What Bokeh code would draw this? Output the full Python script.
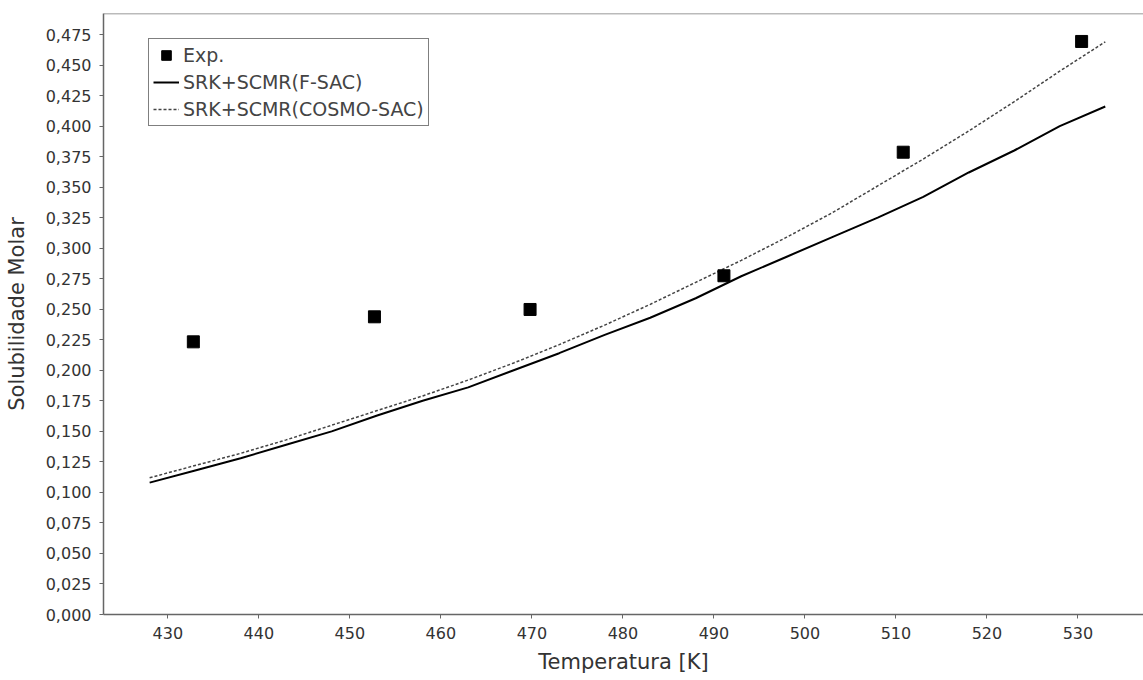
from bokeh.plotting import figure
from bokeh.models import FixedTicker, Span, Legend, LegendItem, Range1d
from bokeh.embed import file_html
from bokeh.resources import INLINE

# Experimental data
exp_T = [432.8, 452.7, 469.8, 491.1, 510.8, 530.4]
exp_x = [0.2233, 0.2438, 0.2498, 0.2774, 0.3786, 0.4693]

# Model curves
model_T = [428, 433, 438, 443, 448, 453, 458, 463, 468, 473, 478, 483,
           488, 493, 498, 503, 508, 513, 518, 523, 528, 533]
fsac_x = [0.108, 0.118, 0.128, 0.139, 0.150, 0.163, 0.175, 0.186, 0.200, 0.214, 0.229, 0.243,
          0.259, 0.277, 0.293, 0.309, 0.325, 0.342, 0.362, 0.380, 0.400, 0.416]
cosmo_x = [0.112, 0.122, 0.132, 0.143, 0.155, 0.167, 0.179, 0.192, 0.206, 0.221, 0.237, 0.254,
           0.272, 0.290, 0.309, 0.329, 0.351, 0.373, 0.396, 0.420, 0.445, 0.469]

y_ticks = [round(i * 0.025, 3) for i in range(20)]
x_ticks = [430, 440, 450, 460, 470, 480, 490, 500, 510, 520, 530]

FONT = "DejaVu Sans"

p = figure(width=1143, height=680, output_backend="svg", toolbar_location=None,
           x_range=Range1d(422.93, 537.2), y_range=Range1d(0, 0.4922),
           min_border_left=103, min_border_right=0, min_border_top=13, min_border_bottom=66)
p.background_fill_color = "white"
p.border_fill_color = "white"
p.outline_line_color = None
p.xgrid.grid_line_color = None
p.ygrid.grid_line_color = None

for ax in (p.xaxis[0], p.yaxis[0]):
    ax.axis_line_color = "#666666"
    ax.axis_line_width = 1.5
    ax.major_tick_line_color = "#666666"
    ax.major_tick_out = 4
    ax.major_tick_in = 0
    ax.minor_tick_line_color = None
    ax.major_label_text_font = FONT
    ax.major_label_text_font_size = "16px"
    ax.major_label_text_color = "#333333"
    ax.axis_label_text_font = FONT
    ax.axis_label_text_font_size = "21px"
    ax.axis_label_text_font_style = "normal"
    ax.axis_label_text_color = "#333333"

p.xaxis.ticker = FixedTicker(ticks=x_ticks)
p.yaxis.ticker = FixedTicker(ticks=y_ticks)
p.yaxis.major_label_overrides = {t: f"{t:.3f}".replace(".", ",") for t in y_ticks}
p.xaxis.axis_label = "Temperatura [K]"
p.yaxis.axis_label = "Solubilidade Molar"
p.xaxis.major_label_standoff = 8
p.yaxis.major_label_standoff = 8
p.xaxis.axis_label_standoff = 8
p.yaxis.axis_label_standoff = 14

p.add_layout(Span(location=0.4922, dimension="width", line_color="#777777", line_width=1.5))

r_fsac = p.line(model_T, fsac_x, line_color="black", line_width=2)
r_cosmo = p.line(model_T, cosmo_x, line_color="#444444", line_width=1.5, line_dash="3 2")
r_exp = p.scatter(exp_T, exp_x, marker="square", size=12, fill_color="black", line_color="black")

legend = Legend(items=[
    LegendItem(label="Exp.", renderers=[r_exp]),
    LegendItem(label="SRK+SCMR(F-SAC)", renderers=[r_fsac]),
    LegendItem(label="SRK+SCMR(COSMO-SAC)", renderers=[r_cosmo]),
], location=(45, 488))
legend.border_line_color = "black"
legend.border_line_width = 1
legend.background_fill_alpha = 1
legend.label_text_font = FONT
legend.label_text_font_size = "19px"
legend.label_text_color = "#444444"
legend.glyph_width = 26
legend.glyph_height = 24
legend.label_height = 24
legend.label_standoff = 4
legend.padding = 4
legend.spacing = 3
legend.margin = 0
p.add_layout(legend)

open("out.html", "w").write(file_html(p, INLINE))
